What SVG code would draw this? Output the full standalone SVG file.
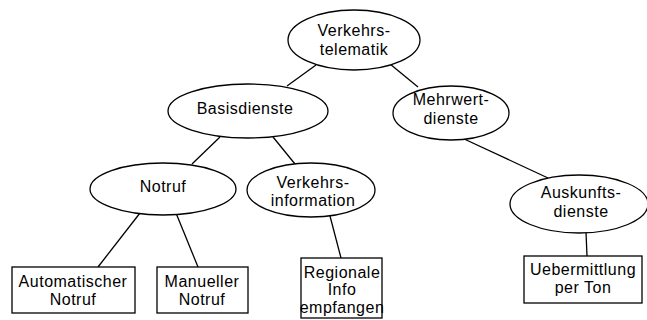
<svg xmlns="http://www.w3.org/2000/svg" width="647" height="320" viewBox="0 0 647 320">
  <style>
    .shape { fill: #ffffff; stroke: #000000; stroke-width: 1.3; }
    .edge { stroke: #000000; stroke-width: 1.3; fill: none; }
    text { font-family: "Liberation Sans", Arial, sans-serif; font-size: 16px; letter-spacing: 0.5px; fill: #000000; text-anchor: middle; }
  </style>
  <rect width="647" height="320" fill="#ffffff"/>

  <!-- connectors -->
  <g id="edges">
    <line class="edge" x1="316" y1="65" x2="287" y2="86"/>
    <line class="edge" x1="390" y1="64" x2="418" y2="87"/>
    <line class="edge" x1="220" y1="137" x2="192" y2="164"/>
    <line class="edge" x1="273" y1="137" x2="295" y2="164"/>
    <line class="edge" x1="462" y1="138" x2="548" y2="178"/>
    <line class="edge" x1="140" y1="213" x2="98" y2="267"/>
    <line class="edge" x1="176" y1="213" x2="198" y2="267"/>
    <line class="edge" x1="330" y1="216" x2="341" y2="258"/>
    <line class="edge" x1="586" y1="232" x2="587" y2="256"/>
  </g>

  <g id="verkehrstelematik">
    <ellipse class="shape" cx="354" cy="40" rx="66" ry="30"/>
    <text x="354" y="36">Verkehrs-</text>
    <text x="354" y="55">telematik</text>
  </g>

  <g id="basisdienste">
    <ellipse class="shape" cx="248" cy="111" rx="80" ry="27"/>
    <text x="245" y="114">Basisdienste</text>
  </g>

  <g id="mehrwertdienste">
    <ellipse class="shape" cx="451" cy="113" rx="58" ry="27"/>
    <text x="451" y="105">Mehrwert-</text>
    <text x="451" y="124">dienste</text>
  </g>

  <g id="notruf">
    <ellipse class="shape" cx="163" cy="189" rx="73" ry="26"/>
    <text x="163" y="192">Notruf</text>
  </g>

  <g id="verkehrsinformation">
    <ellipse class="shape" cx="311" cy="190" rx="64" ry="27"/>
    <text x="313" y="188">Verkehrs-</text>
    <text x="313" y="206">information</text>
  </g>

  <g id="auskunftsdienste">
    <ellipse class="shape" cx="579" cy="204" rx="69" ry="29"/>
    <text x="581" y="198">Auskunfts-</text>
    <text x="581" y="217">dienste</text>
  </g>

  <g id="automatischer-notruf">
    <rect class="shape" x="12" y="267" width="123" height="46"/>
    <text x="73" y="287">Automatischer</text>
    <text x="73" y="305">Notruf</text>
  </g>

  <g id="manueller-notruf">
    <rect class="shape" x="157" y="267" width="91" height="46"/>
    <text x="202" y="287">Manueller</text>
    <text x="202" y="305">Notruf</text>
  </g>

  <g id="regionale-info">
    <rect class="shape" x="301" y="258" width="81" height="60"/>
    <text x="342" y="278">Regionale</text>
    <text x="342" y="295">Info</text>
    <text x="342" y="313">empfangen</text>
  </g>

  <g id="uebermittlung-per-ton">
    <rect class="shape" x="524" y="256" width="118" height="47"/>
    <text x="583" y="275">Uebermittlung</text>
    <text x="583" y="293">per Ton</text>
  </g>
</svg>
